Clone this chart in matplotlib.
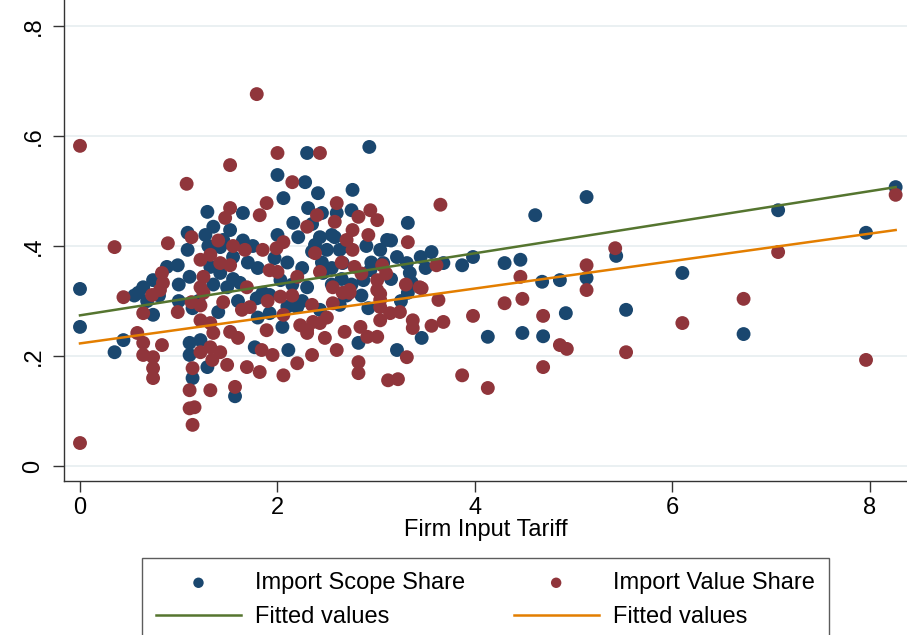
import numpy as np
import matplotlib.pyplot as plt

# Import Scope Share (x = firm input tariff, y = share)
scope_x = [0.00, 0.00, 0.35, 0.44, 0.59, 0.74, 0.55, 0.64, 0.74, 0.88,
           0.99, 1.11, 1.32, 1.09, 1.09, 1.27, 1.29, 1.35, 1.14, 1.11,
           1.11, 1.22, 1.29, 1.14, 1.57, 1.77, 2.11, 2.05, 1.92, 1.79,
           1.92, 1.85, 2.20, 2.43, 2.63, 2.92, 2.82, 3.21, 3.46, 3.32,
           2.00, 2.30, 2.93, 2.28, 2.06, 2.41, 2.31, 1.65, 2.16, 2.43,
           2.58, 2.21, 2.00, 1.52, 1.45, 1.42, 1.97, 1.62, 2.03, 2.50,
           2.38, 2.46, 2.30, 1.49, 1.42, 2.76, 2.75, 3.11, 3.04, 3.07,
           3.21, 3.31, 3.34, 3.32, 3.56, 3.68, 3.36, 2.66, 2.87, 2.94,
           2.63, 3.87, 3.98, 4.30, 4.46, 4.13, 4.48, 4.61, 4.68, 4.86,
           4.69, 4.92, 5.13, 5.13, 5.43, 5.53, 6.10, 6.72, 7.07, 7.96,
           8.26, 2.25, 2.55, 2.70, 2.35, 1.75, 1.80, 2.10, 2.60, 1.55,
           1.30, 1.00, 0.80, 0.68, 1.60, 3.45, 3.15, 2.15, 2.25, 2.45,
           2.55, 2.65, 2.75, 2.85, 2.95, 2.35, 2.55, 2.70, 1.70, 1.55,
           1.35, 1.20, 1.00, 1.40, 1.80, 2.90, 3.25, 3.50, 2.10, 1.65,
           2.45, 3.15]
scope_y = [0.322, 0.253, 0.207, 0.229, 0.315, 0.275, 0.310, 0.325, 0.338, 0.362,
           0.365, 0.344, 0.362, 0.393, 0.424, 0.420, 0.462, 0.435, 0.287, 0.224,
           0.202, 0.229, 0.180, 0.160, 0.127, 0.216, 0.211, 0.253, 0.278, 0.305,
           0.311, 0.315, 0.289, 0.284, 0.293, 0.287, 0.224, 0.211, 0.233, 0.315,
           0.529, 0.569, 0.580, 0.516, 0.487, 0.496, 0.469, 0.460, 0.442, 0.416,
           0.416, 0.416, 0.420, 0.429, 0.411, 0.398, 0.378, 0.333, 0.338, 0.393,
           0.402, 0.351, 0.325, 0.325, 0.351, 0.502, 0.465, 0.411, 0.393, 0.369,
           0.380, 0.369, 0.351, 0.442, 0.389, 0.369, 0.333, 0.369, 0.338, 0.356,
           0.393, 0.365, 0.380, 0.369, 0.375, 0.235, 0.242, 0.456, 0.335, 0.338,
           0.236, 0.278, 0.489, 0.342, 0.382, 0.284, 0.351, 0.240, 0.465, 0.424,
           0.507, 0.360, 0.330, 0.310, 0.440, 0.400, 0.360, 0.370, 0.460, 0.380,
           0.400, 0.330, 0.310, 0.300, 0.300, 0.380, 0.340, 0.330, 0.300, 0.370,
           0.360, 0.340, 0.330, 0.310, 0.370, 0.390, 0.420, 0.400, 0.370, 0.340,
           0.330, 0.300, 0.300, 0.280, 0.270, 0.400, 0.300, 0.360, 0.290, 0.410,
           0.460, 0.410]

# Import Value Share
value_x = [0.00, 0.00, 0.35, 0.89, 1.08, 1.52, 1.79, 2.00, 2.43, 2.15,
           2.60, 2.40, 1.89, 1.82, 1.52, 1.47, 2.30, 2.58, 2.06, 1.67,
           1.85, 1.99, 1.92, 1.52, 1.42, 1.69, 2.00, 2.20, 2.38, 2.43,
           2.56, 2.82, 2.94, 3.01, 2.92, 2.76, 2.70, 2.76, 3.32, 3.65,
           3.61, 3.44, 3.01, 3.04, 2.73, 2.78, 3.06, 1.13, 1.22, 1.32,
           0.83, 0.84, 0.44, 1.25, 1.22, 0.73, 0.81, 0.64, 0.99, 1.13,
           1.22, 1.25, 0.58, 0.64, 0.83, 0.64, 0.74, 0.74, 0.74, 1.22,
           1.32, 1.14, 1.11, 1.11, 1.16, 1.14, 1.32, 1.34, 1.35, 1.32,
           1.22, 1.45, 1.64, 1.72, 2.06, 1.89, 1.52, 1.60, 1.42, 1.84,
           1.95, 2.20, 2.35, 1.49, 1.69, 1.82, 2.06, 1.57, 2.23, 2.30,
           2.36, 2.48, 2.60, 2.35, 2.50, 2.56, 2.03, 2.30, 2.43, 2.73,
           2.66, 2.82, 2.82, 2.68, 2.91, 3.01, 2.84, 3.04, 3.14, 3.04,
           3.24, 3.01, 3.04, 3.63, 3.68, 3.56, 3.37, 3.37, 3.46, 3.31,
           3.12, 3.22, 3.87, 4.13, 3.98, 4.30, 4.48, 4.46, 4.69, 4.86,
           4.93, 4.69, 5.13, 5.13, 5.42, 5.53, 6.10, 6.72, 7.07, 7.96,
           8.26, 1.40, 1.55, 2.65, 2.85, 3.10, 1.90, 2.15, 3.30]
value_y = [0.582, 0.042, 0.398, 0.405, 0.513, 0.547, 0.676, 0.569, 0.569, 0.516,
           0.478, 0.456, 0.478, 0.456, 0.469, 0.451, 0.435, 0.444, 0.407, 0.393,
           0.393, 0.396, 0.356, 0.365, 0.369, 0.325, 0.353, 0.344, 0.387, 0.353,
           0.325, 0.453, 0.465, 0.447, 0.420, 0.429, 0.411, 0.393, 0.407, 0.475,
           0.365, 0.325, 0.338, 0.313, 0.320, 0.362, 0.365, 0.416, 0.375, 0.384,
           0.351, 0.333, 0.307, 0.344, 0.325, 0.311, 0.320, 0.278, 0.280, 0.298,
           0.265, 0.315, 0.242, 0.224, 0.220, 0.202, 0.198, 0.178, 0.160, 0.207,
           0.216, 0.178, 0.138, 0.105, 0.107, 0.075, 0.138, 0.193, 0.242, 0.260,
           0.292, 0.298, 0.284, 0.289, 0.275, 0.247, 0.244, 0.233, 0.207, 0.211,
           0.202, 0.187, 0.202, 0.184, 0.180, 0.171, 0.165, 0.144, 0.256, 0.247,
           0.262, 0.233, 0.211, 0.293, 0.270, 0.296, 0.308, 0.242, 0.260, 0.315,
           0.315, 0.189, 0.169, 0.244, 0.235, 0.235, 0.253, 0.289, 0.278, 0.265,
           0.280, 0.320, 0.302, 0.302, 0.262, 0.255, 0.265, 0.251, 0.323, 0.198,
           0.156, 0.158, 0.165, 0.142, 0.273, 0.296, 0.304, 0.344, 0.273, 0.220,
           0.213, 0.180, 0.365, 0.320, 0.396, 0.207, 0.260, 0.304, 0.389, 0.193,
           0.493, 0.410, 0.400, 0.370, 0.350, 0.350, 0.300, 0.310, 0.330]

# fitted values at the ends of the tariff range
fit_x = [0.0, 8.26]
fit_scope = [0.274, 0.507]
fit_value = [0.223, 0.429]

yticks = [0, 0.2, 0.4, 0.6, 0.8]
yticklabels = ['0', '.2', '.4', '.6', '.8']
xticks = [0, 2, 4, 6, 8]

navy = '#1a476f'
maroon = '#90353b'
green = '#55752f'
orange = '#e37e00'

plt.rcParams['font.family'] = ['Liberation Sans', 'DejaVu Sans']

fig = plt.figure(figsize=(9.07, 6.35), dpi=100)
ax = fig.add_axes([64/907, 1-481/635, 1-64/907, 481/635])

ax.scatter(scope_x, scope_y, s=100, color=navy, edgecolors='none', label='Import Scope Share', zorder=2)
ax.scatter(value_x, value_y, s=100, color=maroon, edgecolors='none', label='Import Value Share', zorder=3)
ax.plot(fit_x, fit_scope, color=green, lw=1.8, label='Fitted values', zorder=4)
ax.plot(fit_x, fit_value, color=orange, lw=1.8, label='Fitted values', zorder=4)

ax.set_xlim(-0.162, 8.375)
ax.set_ylim(-0.027, 0.847)
ax.set_yticks(yticks)
ax.set_yticklabels(yticklabels, rotation=90, va='center')
ax.set_xticks(xticks)
ax.tick_params(axis='both', labelsize=17, length=8, width=1, color='#333333', direction='out')
ax.tick_params(axis='y', pad=6)
ax.grid(axis='y', color='#e6eef0', lw=1.2, zorder=0)
ax.set_axisbelow(True)
for s in ['top', 'right']:
    ax.spines[s].set_visible(False)
for s in ['left', 'bottom']:
    ax.spines[s].set_color('#333333')
    ax.spines[s].set_linewidth(1)
ax.set_xlabel('Firm Input Tariff', fontsize=17, labelpad=0)

h, l = ax.get_legend_handles_labels()
order = [0, 2, 1, 3]
leg = fig.legend([h[i] for i in order], [l[i] for i in order], ncol=2,
                 loc='upper left', bbox_to_anchor=(130/907, 1-546/635),
                 frameon=True, fancybox=False, edgecolor='#333333',
                 fontsize=17, handlelength=3.6, handletextpad=0.6,
                 columnspacing=2.05, borderpad=0.6, labelspacing=0.5,
                 markerscale=0.75)
leg.get_frame().set_linewidth(1)

fig.savefig('out.png', dpi=100)
